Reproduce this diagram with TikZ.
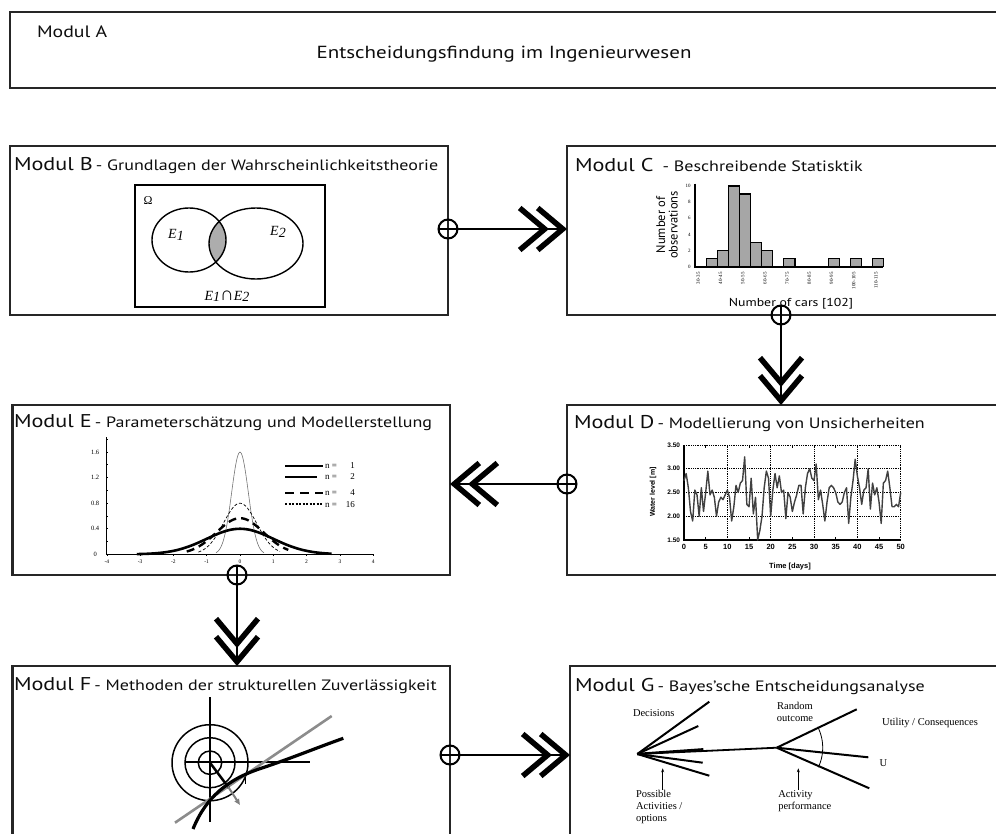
\documentclass[tikz,border=0pt]{standalone}
\usepackage{fontspec}
\setmainfont{PT Sans}
\newfontfamily\tms{Liberation Serif}
\newfontfamily\hlv{Liberation Sans}
\usetikzlibrary{arrows.meta,calc}
\newcommand\myxs[1]{\scalebox{1.2}[1]{#1}}
\newcommand\mytitle[2]{\myxs{{\fontsize{18.5}{20}\selectfont #1} {\fontsize{15}{16}\selectfont - #2}}}
\tikzset{
  box/.style={draw=black!85, line width=2.3pt, rectangle, anchor=north west, inner sep=0pt, outer sep=0pt},
  oplus/.style={circle, draw=black, line width=2pt, minimum size=19pt, inner sep=0pt, outer sep=0pt},
  conn/.style={line width=2pt, -{Straight Barb[length=25pt,width=42pt,line width=5.5pt,sep=-14pt] Straight Barb[length=25pt,width=42pt,line width=5.5pt]}},
  ttl/.style={anchor=base west, text=black!95},
  tiny/.style={font=\tms\fontsize{5}{6}\selectfont},
  ser/.style={font=\tms\fontsize{10.5}{12}\selectfont},
  bar/.style={draw=black, fill=black!35, line width=1.2pt},
  gridl/.style={densely dotted, line width=0.8pt},
  dlab/.style={font=\hlv\bfseries\fontsize{6.5}{7}\selectfont},
  leg/.style={font=\tms\fontsize{9}{10}\selectfont},
}
\begin{document}
\begin{tikzpicture}[x=1pt,y=-1pt, every node/.style={inner sep=0pt, outer sep=0pt}]
\useasboundingbox (0,0) rectangle (996,833);
\clip (0,0) rectangle (996,833);

% boxes
\node[box, minimum width=1010pt, minimum height=76pt] (A) at (10,12) {};
\node[box, minimum width=438pt, minimum height=169pt] (B) at (10,146) {};
\node[box, minimum width=450pt, minimum height=169pt] (C) at (567,146) {};
\node[box, minimum width=450pt, minimum height=170pt] (D) at (567,405) {};
\node[box, minimum width=437.5pt, minimum height=170pt] (E) at (12.5,405) {};
\node[box, minimum width=437.5pt, minimum height=200pt] (F) at (12.5,666) {};
\node[box, minimum width=450pt, minimum height=200pt] (G) at (570,666) {};

% titles
\node[ttl] (tA) at (37,37) {\myxs{\fontsize{16.5}{18}\selectfont Modul A}};
\node[ttl, anchor=base] (tA2) at (504,58) {\myxs{\fontsize{17.5}{19}\selectfont Entscheidungsfindung im Ingenieurwesen}};
\node[ttl] (tB) at (14,170) {\mytitle{Modul B}{Grundlagen der Wahrscheinlichkeitstheorie}};
\node[ttl] (tC) at (575,171) {\mytitle{Modul C\ }{Beschreibende Statisktik}};
\node[ttl] (tE) at (14,427) {\mytitle{Modul E}{Parameterschätzung und Modellerstellung}};
\node[ttl] (tD) at (574,428) {\mytitle{Modul D}{Modellierung von Unsicherheiten}};
\node[ttl] (tF) at (14,690) {\mytitle{Modul F}{Methoden der strukturellen Zuverlässigkeit}};
\node[ttl] (tG) at (575,691.5) {\mytitle{Modul G}{Bayes'sche Entscheidungsanalyse}};

% connectors
\coordinate (q1) at (448,229);
\coordinate (q2) at (781,315);
\coordinate (q3) at (567,484);
\coordinate (q4) at (237,575);
\coordinate (q5) at (450,755);
\node[oplus] (p1) at (q1) {};
\node[oplus] (p2) at (q2) {};
\node[oplus] (p3) at (q3) {};
\node[oplus] (p4) at (q4) {};
\node[oplus] (p5) at (q5) {};
\draw[conn] (p1.west) -- (p1 -| C.west);
\draw[conn] (p2.north) -- (p2 |- D.north);
\draw[conn] (p3.east) -- (p3 -| E.east);
\draw[conn] (p4.north) -- (p4 |- F.north);
\draw[conn] (p5.west) -- (p5 -| G.west);

% ---- Modul B: Venn
\draw[line width=1.5pt] (135,185) rectangle (325,307);
\begin{scope}
  \clip (189,240) ellipse [x radius=37pt, y radius=32pt];
  \fill[black!32] (256,243.5) ellipse [x radius=47pt, y radius=35.5pt];
\end{scope}
\draw[line width=1.4pt] (189,240) ellipse [x radius=37pt, y radius=32pt];
\draw[line width=1.4pt] (256,243.5) ellipse [x radius=47pt, y radius=35.5pt];
\node[font=\tms\fontsize{12}{14}\selectfont] (om) at (148,201) {Ω};
\node[font=\tms\itshape\fontsize{14}{16}\selectfont] (e1) at (176,235) {E\raisebox{-1.5pt}{1}};
\node[font=\tms\itshape\fontsize{14}{16}\selectfont] (e2) at (278,232) {E\raisebox{-1.5pt}{2}};
\node[font=\tms\itshape\fontsize{14}{16}\selectfont] (e12) at (227,296) {E\raisebox{-1.5pt}{1}{\hlv\upshape\bfseries\fontsize{19}{16}\selectfont ∩}E\raisebox{-1.5pt}{2}};

% ---- Modul C: histogram
\begin{scope}[shift={(695pt,-266.7pt)}, x=11.1pt, y=8.07pt]
  \foreach \b/\h in {1/1,2/2,3/10,4/9,5/3,6/2,8/1,12/1,14/1,16/1}
    \draw[bar] (\b,0) rectangle ({\b+1},\h);
  \draw[line width=1.8pt] (0,10.3) -- (0,0) -- (16.9,0);
  \foreach \v in {0,2,4,6,8,10}
    \node[tiny, anchor=east] at (-0.4,\v) {\v};
  \foreach \k/\t in {0/30-35,1/40-45,2/50-55,3/60-65,4/70-75,5/80-85,6/90-95,7/100-105,8/110-115}
    \node[tiny, rotate=90, anchor=east] at ({2*\k+0.3},-0.7) {\t};
\end{scope}
\node[font=\fontsize{12.5}{12.5}\selectfont, rotate=90, align=center] (cy) at (667,225) {Number of\\observations};
\node[font=\fontsize{11.5}{12}\selectfont] (cx) at (791,304) {\myxs{Number of cars [102]}};

% ---- Modul D: time series
\begin{scope}[shift={(684pt,-611.25pt)}, x=4.334pt, y=47.5pt]
  \foreach \d in {10,20,30,40,50} \draw[gridl] (\d,1.5) -- (\d,3.5);
  \foreach \v in {2,2.5,3,3.5} \draw[gridl] (0,\v) -- (50,\v);
  \foreach \d in {5,15,25,35,45} {\draw[line width=0.8pt] (\d,1.5) -- ++(0,0.06); \draw[line width=0.8pt] (\d,3.5) -- ++(0,-0.06);}
  \draw[line width=1.3pt] (0,3.5) -- (0,1.5) -- (50,1.5);
  \draw[black!75, line width=1.4pt, line join=round] plot coordinates {(0,2.75)(0.5,2.9)(1,2.6)(1.5,2.1)(2,1.9)(2.5,2.55)(3,2.45)(3.5,2.0)(4,2.6)(4.5,2.1)(5,2.5)(5.5,2.95)(6,2.45)(6.5,2.55)(7,2.4)(7.5,2.0)(8,2.3)(8.5,2.4)(9,2.35)(9.5,2.45)(10,2.55)(10.5,2.4)(11,1.9)(11.5,2.2)(12,2.65)(12.5,2.5)(13,2.7)(13.5,2.75)(14,3.25)(14.5,2.25)(15,2.2)(15.5,2.8)(16,2.05)(16.5,2.4)(17,1.5)(17.5,1.7)(18,2.0)(18.5,2.6)(19,2.95)(19.5,2.8)(20,2.0)(20.5,2.55)(21,2.9)(21.5,2.6)(22,2.85)(22.5,2.5)(23,2.55)(23.5,1.95)(24,2.5)(24.5,2.4)(25,2.1)(25.5,2.3)(26,2.45)(26.5,2.65)(27,2.65)(27.5,2.05)(28,2.6)(28.5,2.9)(29,3.0)(29.5,2.8)(30,2.75)(30.5,3.1)(31,2.35)(31.5,2.55)(32,2.25)(32.5,1.9)(33,2.3)(33.5,2.6)(34,2.65)(34.5,2.6)(35,2.5)(35.5,2.3)(36,2.25)(36.5,2.3)(37,2.5)(37.5,2.6)(38,1.85)(38.5,2.4)(39,2.75)(39.5,3.2)(40,2.85)(40.5,2.6)(41,2.25)(41.5,2.55)(42,2.6)(42.5,3.0)(43,2.15)(43.5,2.7)(44,2.45)(44.5,2.6)(45,2.3)(45.5,1.85)(46,2.7)(46.5,2.75)(47,2.95)(47.5,2.6)(48,2.2)(48.5,2.2)(49,2.25)(49.5,2.2)(50,2.5)};
  \foreach \v/\t in {1.5/1.50,2/2.00,2.5/2.50,3/3.00,3.5/3.50}
    \node[dlab, anchor=east] at (-0.9,\v) {\t};
  \foreach \d in {0,5,...,50}
    \node[dlab, font=\hlv\bfseries\fontsize{7.5}{8}\selectfont, anchor=north] at (\d,1.41) {\d};
\end{scope}
\node[font=\hlv\bfseries\fontsize{7.5}{8}\selectfont] (dx) at (790,567) {Time [days]};
\node[font=\hlv\bfseries\fontsize{7}{8}\selectfont, rotate=90] (dy) at (653,492) {Water level [m]};

% ---- Modul E: densities
\begin{scope}[shift={(240pt,-554.3pt)}, x=33.3pt, y=64pt]
  \draw[line width=0.9pt] (-4,1.83) -- (-4,0) -- (4,0);
  \foreach \i in {-4,...,4} \draw[line width=0.6pt] (\i,0) -- (\i,-0.03);
  \foreach \v in {0.2,0.4,...,1.8} \draw[line width=0.6pt] (-4,\v) -- (-3.96,\v);
  \foreach \i in {-4,...,4} \node[font=\tms\fontsize{5.5}{6}\selectfont] at (\i,-0.115) {\i};
  \foreach \v/\t in {0/0,0.4/0.4,0.8/0.8,1.2/1.2,1.6/1.6}
    \node[font=\tms\fontsize{6.5}{7}\selectfont] at (-4.35,\v) {\t};
  \draw[black!55, line width=0.6pt] plot[domain=-0.72:0.72, samples=60, smooth] (\x,{sqrt(16/(2*pi))*exp(-16*\x*\x/2)});
  \draw[line width=0.7pt, dash pattern=on 3pt off 2pt] plot[domain=-1.25:1.2, samples=60, smooth] (\x,{sqrt(4/(2*pi))*exp(-4*\x*\x/2)});
  \draw[line width=2.4pt, dash pattern=on 8pt off 5pt] plot[domain=-1.6:1.45, samples=60, smooth] (\x,{sqrt(2/(2*pi))*exp(-2*\x*\x/2)});
  \draw[line width=2.6pt] plot[domain=-3.1:2.75, samples=80, smooth] (\x,{sqrt(1/(2*pi))*exp(-\x*\x/2)});
\end{scope}
\draw[line width=2.6pt] (285,466) -- (323,466);
\draw[line width=2.2pt] (285,476.7) -- (317,476.7);
\draw[line width=2.4pt, dash pattern=on 9pt off 6pt] (285,492.7) -- (323,492.7);
\draw[line width=2.2pt, dash pattern=on 2pt off 1.5pt] (285,504.3) -- (323,504.3);
\node[leg, anchor=west] (l1) at (325,466) {n =\makebox[18pt][r]{1}};
\node[leg, anchor=west] (l2) at (325,476.7) {n =\makebox[18pt][r]{2}};
\node[leg, anchor=west] (l3) at (325,492.7) {n =\makebox[18pt][r]{4}};
\node[leg, anchor=west] (l4) at (325,504.3) {n =\makebox[18pt][r]{16}};

% ---- Modul F: reliability sketch
\draw[line width=1.5pt] (210,762.7) circle [radius=38pt];
\draw[line width=1.5pt] (210,762.7) circle [radius=25pt];
\draw[line width=1.5pt] (210,762.7) circle [radius=11.7pt];
\draw[line width=1.5pt] (210,697) -- (210,822);
\draw[line width=1.5pt] (185,762.2) -- (310,762.2);
\draw[black!45, line width=2.6pt] (175,822.7) -- (331.7,716);
\draw[line width=3.2pt] (193,829) .. controls (206,797) and (228,779) .. (262,768) .. controls (292,758) and (316,748) .. (343.3,738.3);
\draw[line width=2.5pt] (210,762.7) -- (229,788);
\draw[black!50, line width=2pt, -{Triangle[length=6pt,width=5pt]}] (228,786.5) -- (240,805);
\draw[line width=0.8pt] (245,776.5) -- (245,784);

% ---- Modul G: decision tree
\coordinate (dn) at (637.3,754);
\coordinate (rn) at (776.7,747.7);
\draw[line width=2pt] (dn) -- (709.3,701.7);
\draw[line width=2pt] (dn) -- (698.3,726);
\draw[line width=2.4pt] (dn) -- (703.3,749.3);
\draw[line width=1.8pt] (dn) -- (rn);
\draw[line width=2pt] (dn) -- (702.7,762.7);
\draw[line width=2pt] (dn) -- (709.3,775.7);
\draw[line width=2pt] (rn) -- (856.7,709.3);
\draw[line width=2pt] (rn) -- (868.3,757.3);
\draw[line width=2pt] (rn) -- (869.3,788.3);
\draw[line width=0.8pt] plot[domain=-25:27, samples=30] ({776.7+46*cos(\x)},{747.7-46*sin(\x)});
\draw[line width=0.8pt, -{Stealth[length=4pt,width=3pt]}] (662.7,790) -- (662.7,768.3);
\draw[line width=0.8pt, -{Stealth[length=4pt,width=3pt]}] (798.3,790) -- (798.3,768.3);
\node[ser] (gdec) at (653.7,712.7) {Decisions};
\node[ser, align=center] (grand) at (795,712) {Random\\outcome};
\node[ser] (gut) at (930,723.3) {Utility / Consequences};
\node[ser] (gu) at (883.3,762.7) {U};
\node[ser, align=left, anchor=north west] (gpos) at (636,790) {Possible\\Activities /\\options};
\node[ser, align=left, anchor=north west] (gact) at (778.3,790.5) {Activity\\performance};
\end{tikzpicture}
\end{document}
